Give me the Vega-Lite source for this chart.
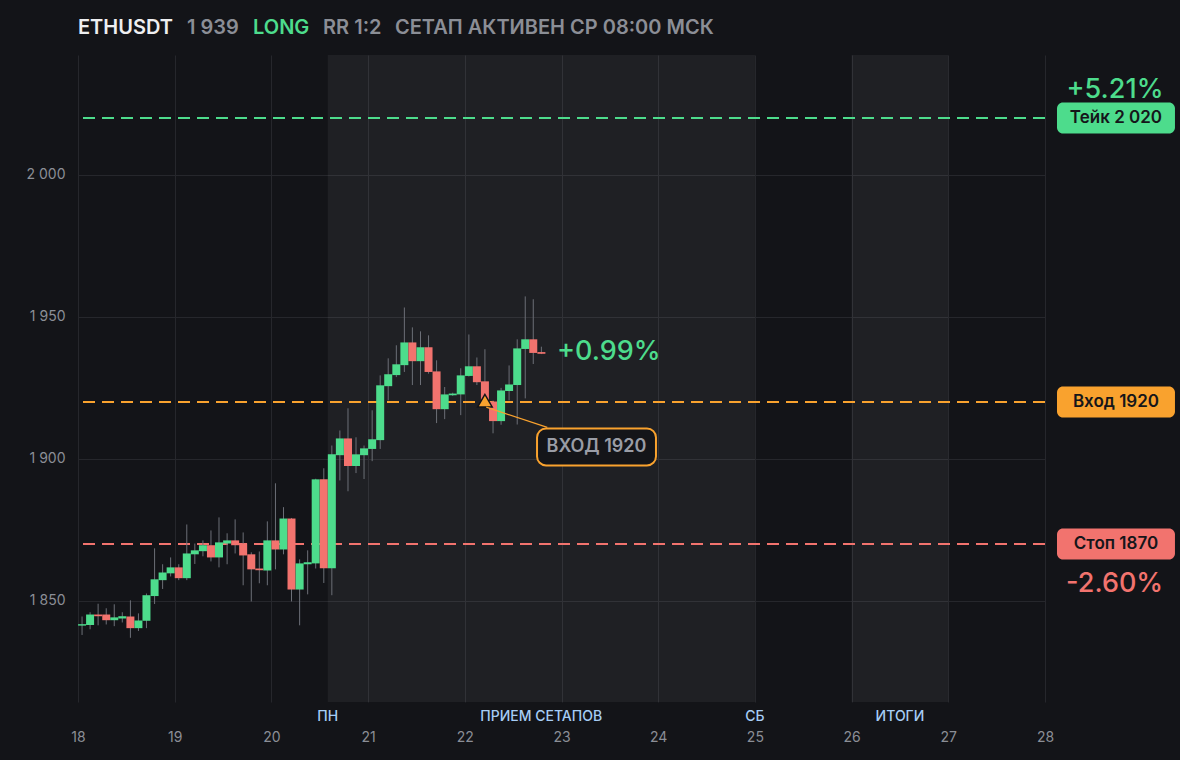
{
  "$schema": "https://vega.github.io/schema/vega-lite/v6.json",
  "description": "ETHUSDT 2h candles with take / entry / stop levels",
  "width": 967,
  "height": 647,
  "autosize": "none",
  "padding": {"left": 78, "top": 55, "right": 135, "bottom": 58},
  "background": "#131418",
  "config": {
    "view": {"stroke": null},
    "font": "Inter",
    "axis": {
      "domain": false,
      "ticks": false,
      "title": null,
      "grid": true,
      "gridColor": "#26272c",
      "gridWidth": 1,
      "labelFont": "Inter",
      "labelColor": "#8b8e96",
      "labelFontSize": 14
    }
  },
  "datasets": {
    "candles": [
      {"t": 18.042, "o": 1841.3, "h": 1844.5, "l": 1838.0, "c": 1841.8},
      {"t": 18.125, "o": 1841.5, "h": 1846.0, "l": 1840.0, "c": 1845.2},
      {"t": 18.208, "o": 1845.2, "h": 1849.0, "l": 1841.4, "c": 1844.6},
      {"t": 18.292, "o": 1845.2, "h": 1847.4, "l": 1841.7, "c": 1843.2},
      {"t": 18.375, "o": 1843.2, "h": 1848.8, "l": 1841.1, "c": 1844.2},
      {"t": 18.458, "o": 1843.8, "h": 1846.0, "l": 1842.4, "c": 1844.6},
      {"t": 18.542, "o": 1844.5, "h": 1850.2, "l": 1837.0, "c": 1840.4},
      {"t": 18.625, "o": 1840.4, "h": 1845.6, "l": 1839.4, "c": 1843.1},
      {"t": 18.708, "o": 1843.0, "h": 1852.6, "l": 1840.4, "c": 1852.0},
      {"t": 18.792, "o": 1851.7, "h": 1868.5, "l": 1848.9, "c": 1857.6},
      {"t": 18.875, "o": 1857.3, "h": 1862.9, "l": 1854.2, "c": 1860.0},
      {"t": 18.958, "o": 1859.7, "h": 1865.3, "l": 1858.6, "c": 1861.8},
      {"t": 19.042, "o": 1861.8, "h": 1862.9, "l": 1857.3, "c": 1858.0},
      {"t": 19.125, "o": 1858.0, "h": 1876.9, "l": 1857.3, "c": 1866.7},
      {"t": 19.208, "o": 1866.4, "h": 1870.2, "l": 1863.0, "c": 1867.8},
      {"t": 19.292, "o": 1867.5, "h": 1871.3, "l": 1865.7, "c": 1869.6},
      {"t": 19.375, "o": 1869.6, "h": 1874.8, "l": 1863.9, "c": 1865.3},
      {"t": 19.458, "o": 1865.3, "h": 1879.4, "l": 1861.8, "c": 1870.6},
      {"t": 19.542, "o": 1870.2, "h": 1873.8, "l": 1862.9, "c": 1871.3},
      {"t": 19.625, "o": 1871.3, "h": 1878.7, "l": 1866.7, "c": 1869.6},
      {"t": 19.708, "o": 1870.2, "h": 1874.1, "l": 1855.5, "c": 1866.0},
      {"t": 19.792, "o": 1866.4, "h": 1867.1, "l": 1849.8, "c": 1861.1},
      {"t": 19.875, "o": 1861.4, "h": 1867.4, "l": 1856.2, "c": 1860.8},
      {"t": 19.958, "o": 1860.7, "h": 1878.0, "l": 1855.5, "c": 1871.3},
      {"t": 20.042, "o": 1871.3, "h": 1891.4, "l": 1861.1, "c": 1868.1},
      {"t": 20.125, "o": 1868.1, "h": 1883.0, "l": 1866.4, "c": 1879.0},
      {"t": 20.208, "o": 1879.0, "h": 1879.2, "l": 1849.8, "c": 1854.0},
      {"t": 20.292, "o": 1854.0, "h": 1864.6, "l": 1841.4, "c": 1863.2},
      {"t": 20.375, "o": 1862.9, "h": 1867.8, "l": 1852.3, "c": 1863.6},
      {"t": 20.458, "o": 1863.2, "h": 1893.0, "l": 1861.4, "c": 1892.8},
      {"t": 20.542, "o": 1892.8, "h": 1896.7, "l": 1856.3, "c": 1861.5},
      {"t": 20.625, "o": 1861.5, "h": 1904.7, "l": 1852.0, "c": 1901.6},
      {"t": 20.708, "o": 1901.3, "h": 1910.0, "l": 1892.4, "c": 1907.2},
      {"t": 20.792, "o": 1907.2, "h": 1917.8, "l": 1888.6, "c": 1897.5},
      {"t": 20.875, "o": 1897.5, "h": 1907.6, "l": 1895.0, "c": 1901.6},
      {"t": 20.958, "o": 1901.3, "h": 1904.7, "l": 1892.9, "c": 1903.7},
      {"t": 21.042, "o": 1903.5, "h": 1917.1, "l": 1899.2, "c": 1906.9},
      {"t": 21.125, "o": 1906.6, "h": 1929.4, "l": 1903.5, "c": 1925.9},
      {"t": 21.208, "o": 1925.6, "h": 1935.4, "l": 1920.6, "c": 1929.8},
      {"t": 21.292, "o": 1929.5, "h": 1940.0, "l": 1928.8, "c": 1933.3},
      {"t": 21.375, "o": 1933.0, "h": 1953.3, "l": 1930.6, "c": 1941.0},
      {"t": 21.458, "o": 1941.0, "h": 1946.3, "l": 1926.0, "c": 1934.4},
      {"t": 21.542, "o": 1934.4, "h": 1944.9, "l": 1926.0, "c": 1939.3},
      {"t": 21.625, "o": 1939.3, "h": 1943.5, "l": 1930.0, "c": 1930.6},
      {"t": 21.708, "o": 1930.8, "h": 1934.7, "l": 1912.6, "c": 1917.5},
      {"t": 21.792, "o": 1917.5, "h": 1925.3, "l": 1914.0, "c": 1922.7},
      {"t": 21.875, "o": 1922.4, "h": 1923.3, "l": 1922.2, "c": 1923.0},
      {"t": 21.958, "o": 1922.7, "h": 1931.9, "l": 1915.4, "c": 1929.4},
      {"t": 22.042, "o": 1929.2, "h": 1943.8, "l": 1929.0, "c": 1932.6},
      {"t": 22.125, "o": 1932.6, "h": 1935.7, "l": 1926.0, "c": 1927.0},
      {"t": 22.208, "o": 1927.3, "h": 1938.6, "l": 1919.0, "c": 1920.2},
      {"t": 22.292, "o": 1920.2, "h": 1920.5, "l": 1909.0, "c": 1913.3},
      {"t": 22.375, "o": 1913.3, "h": 1925.0, "l": 1912.0, "c": 1924.1},
      {"t": 22.458, "o": 1923.9, "h": 1932.9, "l": 1920.6, "c": 1926.2},
      {"t": 22.542, "o": 1926.0, "h": 1942.1, "l": 1912.1, "c": 1938.9},
      {"t": 22.625, "o": 1938.7, "h": 1957.2, "l": 1921.3, "c": 1942.1},
      {"t": 22.708, "o": 1942.1, "h": 1956.2, "l": 1933.4, "c": 1937.3},
      {"t": 22.792, "o": 1937.6, "h": 1939.5, "l": 1936.9, "c": 1937.0}
    ]
  },
  "layer": [
    {
      "data": {"values": [{"a": 20.583, "b": 25}, {"a": 26, "b": 27}]},
      "mark": {"type": "rect", "fill": "#ffffff", "fillOpacity": 0.055},
      "encoding": {
        "x": {
          "field": "a",
          "type": "quantitative",
          "scale": {"domain": [18, 28], "nice": false, "zero": false, "padding": 0},
          "axis": {"values": [18, 19, 20, 21, 22, 23, 24, 25, 26, 27, 28], "format": "d", "labelPadding": 28, "labelFlush": false}
        },
        "x2": {"field": "b"}
      }
    },
    {
      "data": {"values": [
        {"kind": "take", "p": 2020},
        {"kind": "entry", "p": 1920},
        {"kind": "stop", "p": 1870}
      ]},
      "mark": {"type": "rule", "strokeDash": [12, 7], "strokeWidth": 2},
      "encoding": {
        "y": {
          "field": "p",
          "type": "quantitative",
          "scale": {"domain": [1814.4, 2042.2], "nice": false, "zero": false, "padding": 0},
          "axis": {
            "values": [1850, 1900, 1950, 2000],
            "labelPadding": 13,
            "labelExpr": "replace(format(datum.value, ','), ',', '\u00a0')"
          }
        },
        "color": {
          "field": "kind",
          "type": "nominal",
          "scale": {"domain": ["take", "entry", "stop", "sym", "muted", "side"], "range": ["#4ddc8c", "#f9a22e", "#f2736e", "#eeeff1", "#8b8e96", "#4ddc8c"]},
          "legend": null
        }
      }
    },
    {
      "data": {"name": "candles"},
      "mark": {"type": "rule", "color": "#6c6f77", "strokeWidth": 1},
      "encoding": {
        "x": {"field": "t", "type": "quantitative"},
        "y": {"field": "l", "type": "quantitative"},
        "y2": {"field": "h"}
      }
    },
    {
      "data": {"name": "candles"},
      "mark": {"type": "bar", "width": 8},
      "encoding": {
        "x": {"field": "t", "type": "quantitative"},
        "y": {"field": "o", "type": "quantitative"},
        "y2": {"field": "c"},
        "color": {
          "condition": {"test": "datum.c >= datum.o", "value": "#4ddc8c"},
          "value": "#f2736e"
        }
      }
    },
    {
      "data": {"values": [{"t": 22.208, "p": 1920.5}]},
      "mark": {"type": "point", "shape": "triangle-up", "size": 210, "filled": true, "fill": "#f9a22e", "stroke": "#131418", "strokeWidth": 1.5, "opacity": 1},
      "encoding": {
        "x": {"field": "t", "type": "quantitative"},
        "y": {"field": "p", "type": "quantitative"}
      }
    },
    {
      "data": {"values": [{"x0": 22.222, "y0": 1918.2, "x1": 22.853, "y1": 1911.1}]},
      "mark": {"type": "rule", "color": "#f9a22e", "strokeWidth": 1.2},
      "encoding": {
        "x": {"field": "x0", "type": "quantitative"},
        "x2": {"field": "x1"},
        "y": {"field": "y0", "type": "quantitative"},
        "y2": {"field": "y1"}
      }
    },
    {
      "data": {"values": [{"x0": 22.747, "x1": 23.977, "p": 1904.2}]},
      "mark": {"type": "bar", "height": 37, "cornerRadius": 9, "fill": "#141519", "stroke": "#f9a22e", "strokeWidth": 2},
      "encoding": {
        "x": {"field": "x0", "type": "quantitative"},
        "x2": {"field": "x1"},
        "y": {"field": "p", "type": "quantitative"}
      }
    },
    {
      "data": {"values": [{"t": 23.362, "p": 1904.2, "label": "ВХОД 1920"}]},
      "mark": {"type": "text", "font": "Inter", "fontSize": 18, "fontWeight": 600, "color": "#9a9da6", "align": "center", "baseline": "middle"},
      "encoding": {
        "x": {"field": "t", "type": "quantitative"},
        "y": {"field": "p", "type": "quantitative"},
        "text": {"field": "label"}
      }
    },
    {
      "data": {"values": [{"t": 22.953, "p": 1937.7, "label": "+0.99%"}]},
      "mark": {"type": "text", "font": "Inter", "fontSize": 27, "fontWeight": 500, "color": "#4ddc8c", "align": "left", "baseline": "middle"},
      "encoding": {
        "x": {"field": "t", "type": "quantitative"},
        "y": {"field": "p", "type": "quantitative"},
        "text": {"field": "label"}
      }
    },
    {
      "data": {"values": [
        {"kind": "take", "x0": 28.124, "x1": 29.344, "p": 2020},
        {"kind": "entry", "x0": 28.124, "x1": 29.344, "p": 1920},
        {"kind": "stop", "x0": 28.124, "x1": 29.344, "p": 1870}
      ]},
      "mark": {"type": "bar", "height": 31, "cornerRadius": 6},
      "encoding": {
        "x": {"field": "x0", "type": "quantitative"},
        "x2": {"field": "x1"},
        "y": {"field": "p", "type": "quantitative"},
        "color": {"field": "kind", "type": "nominal", "legend": null}
      }
    },
    {
      "data": {"values": [
        {"t": 28.734, "p": 2020, "label": "Тейк 2\u00a0020"},
        {"t": 28.734, "p": 1920, "label": "Вход 1920"},
        {"t": 28.734, "p": 1870, "label": "Стоп 1870"}
      ]},
      "mark": {"type": "text", "font": "Inter", "fontSize": 17, "fontWeight": 600, "color": "#15161a", "align": "center", "baseline": "middle"},
      "encoding": {
        "x": {"field": "t", "type": "quantitative"},
        "y": {"field": "p", "type": "quantitative"},
        "text": {"field": "label"}
      }
    },
    {
      "data": {"values": [
        {"kind": "take", "t": 28.724, "p": 2030.0, "label": "+5.21%"},
        {"kind": "stop", "t": 28.72, "p": 1856.0, "label": "-2.60%"}
      ]},
      "mark": {"type": "text", "font": "Inter", "fontSize": 27, "fontWeight": 500, "align": "center", "baseline": "middle"},
      "encoding": {
        "x": {"field": "t", "type": "quantitative"},
        "y": {"field": "p", "type": "quantitative"},
        "text": {"field": "label"},
        "color": {"field": "kind", "type": "nominal", "legend": null}
      }
    },
    {
      "data": {"values": [
        {"kind": "sym", "t": 18.0, "label": "ETHUSDT"},
        {"kind": "muted", "t": 19.127, "label": "1\u00a0939"},
        {"kind": "side", "t": 19.81, "label": "LONG"},
        {"kind": "muted", "t": 20.534, "label": "RR 1:2"},
        {"kind": "muted", "t": 21.278, "label": "СЕТАП АКТИВЕН СР 08:00 МСК"}
      ]},
      "mark": {"type": "text", "font": "Inter", "fontSize": 20, "fontWeight": 600, "align": "left", "baseline": "middle", "y": -27},
      "encoding": {
        "x": {"field": "t", "type": "quantitative"},
        "text": {"field": "label"},
        "color": {"field": "kind", "type": "nominal", "legend": null}
      }
    },
    {
      "data": {"values": [
        {"t": 20.583, "label": "ПН"},
        {"t": 22.79, "label": "ПРИЕМ СЕТАПОВ"},
        {"t": 25.0, "label": "СБ"},
        {"t": 26.5, "label": "ИТОГИ"}
      ]},
      "mark": {"type": "text", "font": "Inter", "fontSize": 14, "fontWeight": 500, "color": "#a6cdf5", "align": "center", "baseline": "middle", "y": 662},
      "encoding": {
        "x": {"field": "t", "type": "quantitative"},
        "text": {"field": "label"}
      }
    }
  ]
}
